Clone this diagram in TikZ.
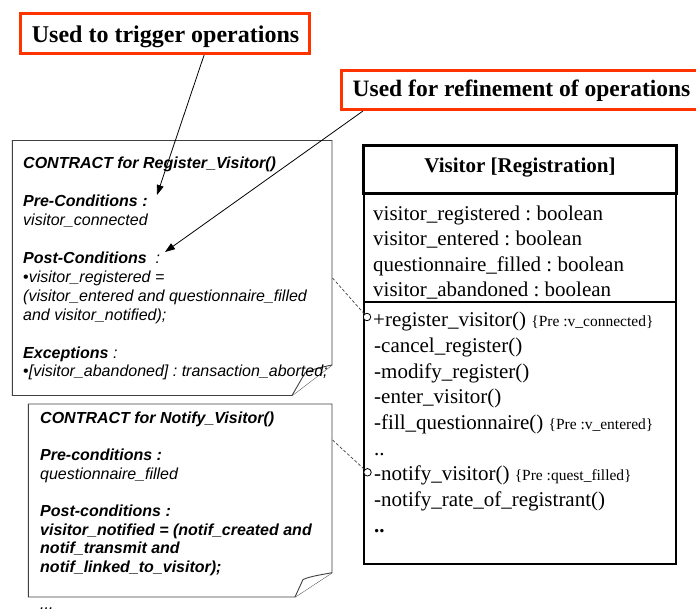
\documentclass[tikz,border=0pt]{standalone}
\usepackage{fontspec}
\setmainfont{Liberation Serif}
\newfontfamily\notefont{Liberation Sans}
\usetikzlibrary{arrows.meta,calc}
\frenchspacing

\definecolor{callred}{RGB}{255,51,0}
\definecolor{noteline}{RGB}{64,64,64}

\begin{document}
\begin{tikzpicture}[x=1pt,y=-1pt,
  calloutbox/.style={draw=callred, line width=2.6pt, fill=white, inner sep=0pt},
  callouttxt/.style={anchor=base west, inner sep=0pt, font=\fontsize{24}{28}\selectfont\bfseries},
  pointer/.style={line width=0.8pt, -{Triangle[length=10pt,width=7pt]}},
  noteshape/.style={draw=noteline, line width=0.9pt, fill=white, line join=miter},
  notetxt/.style={anchor=base west, inner sep=0pt, font=\notefont\fontsize{16}{19}\selectfont\itshape},
  notebold/.style={notetxt, font=\notefont\fontsize{16}{19}\selectfont\bfseries\itshape},
  classhead/.style={draw, line width=3pt, fill=white, inner sep=0pt},
  classpart/.style={draw, line width=1.7pt, fill=white, inner sep=0pt},
  member/.style={anchor=base west, inner sep=0pt, font=\fontsize{21}{25}\selectfont},
  port/.style={circle, draw, fill=white, line width=0.8pt, minimum size=7.5pt, inner sep=0pt},
  link/.style={draw=black!75, line width=0.7pt, dash pattern=on 3pt off 2pt}
]
\newcommand{\cond}[1]{{\fontsize{15.5}{18}\selectfont #1}}

\useasboundingbox (0,0) rectangle (696,612);

% ---------- contract notes ----------
\coordinate (n1a) at (12.3,140.5);
\coordinate (n1b) at (332,140.5);
\coordinate (n1c) at (332,365);
\coordinate (n1d) at (292,395.5);
\coordinate (n1e) at (12.3,395.5);
\coordinate (n1fold) at (305,373);
\path[noteshape] (n1a) -- (n1b) -- (n1c) -- (n1d) -- (n1e) -- cycle;
\draw[noteshape] (n1c) .. controls (323,367) and (312,369) .. (n1fold) -- (n1d);

\coordinate (n2a) at (28.3,404);
\coordinate (n2b) at (332,404);
\coordinate (n2c) at (332,572.7);
\coordinate (n2d) at (295,597);
\coordinate (n2e) at (28.3,597);
\coordinate (n2fold) at (303,579.5);
\path[noteshape] (n2a) -- (n2b) -- (n2c) -- (n2d) -- (n2e) -- cycle;
\draw[noteshape] (n2c) .. controls (323,574.5) and (311,576) .. (n2fold) -- (n2d);

% text of the first contract
\node[notebold] (c1t) at (23,169)   {CONTRACT for Register\_Visitor()};
\node[notebold] (c1p) at (23,206.8) {Pre-Conditions :};
\node[notetxt]  (c1pv) at (23,225.7) {visitor\_connected};
\node[notetxt]  (c1q) at (23,263.5) {\textbf{Post-Conditions}\ \ :};
\node[notetxt]  (c1q1) at (23,282.4) {\upshape•\itshape visitor\_registered =};
\node[notetxt]  (c1q2) at (23,301.3) {(visitor\_entered and questionnaire\_filled};
\node[notetxt]  (c1q3) at (23,320.2) {and visitor\_notified);};
\node[notetxt]  (c1x) at (23,358)   {\textbf{Exceptions} :};
\node[notetxt]  (c1x1) at (23,376.9) {\upshape•\itshape [visitor\_abandoned] : transaction\_aborted;};

% text of the second contract
\node[notebold] (c2t) at (40,423.5) {CONTRACT for Notify\_Visitor()};
\node[notebold] (c2p) at (40,460.7) {Pre-conditions :};
\node[notetxt]  (c2pv) at (40,479.3) {questionnaire\_filled};
\node[notebold] (c2q) at (40,516.5) {Post-conditions :};
\node[notebold] (c2q1) at (40,535.1) {visitor\_notified = (notif\_created and};
\node[notebold] (c2q2) at (40,553.7) {notif\_transmit and};
\node[notebold] (c2q3) at (40,572.3) {notif\_linked\_to\_visitor);};
\node[notetxt]  (more) at (40,609) {...};

% ---------- class ----------
\node[classpart, minimum width=312.6pt, minimum height=108.2pt] (attrs) at (520,247.6) {};
\node[classpart, minimum width=312.6pt, minimum height=262.3pt] (ops) at (520,432.85) {};
\node[classhead, minimum width=312.6pt, minimum height=47.8pt] (head) at (520,169.6) {};
\node[anchor=base, inner sep=0pt, font=\fontsize{21}{25}\selectfont\bfseries] (hname) at (520,172.7) {Visitor [Registration]};

\node[member] (a1) at (373,220.5) {visitor\_registered : boolean};
\node[member] (a2) at (373,245.8) {visitor\_entered : boolean};
\node[member] (a3) at (373,271.1) {questionnaire\_filled : boolean};
\node[member] (a4) at (373,296.4) {visitor\_abandoned : boolean};

\node[member] (o1) at (373,326.7) {+register\_visitor() \cond{\{Pre :v\_connected\}}};
\node[member] (o2) at (374,352.4) {-cancel\_register()};
\node[member] (o3) at (374,378.1) {-modify\_register()};
\node[member] (o4) at (374,403.8) {-enter\_visitor()};
\node[member] (o5) at (374,429.5) {-fill\_questionnaire() \cond{\{Pre :v\_entered\}}};
\node[member] (o6) at (374,455.2) {..};
\node[member] (o7) at (374,480.9) {-notify\_visitor() \cond{\{Pre :quest\_filled\}}};
\node[member] (o8) at (374,506.6) {-notify\_rate\_of\_registrant()};
\node[member] (o9) at (374,532.3) {\textbf{..}};

% ---------- links from contracts to operations ----------
\node[port] (p1) at (367,317) {};
\node[port] (p2) at (367.5,472.3) {};
\coordinate (n1port) at (332.5,278);
\coordinate (n2port) at (332.5,440);
\draw[link] (n1port) -- (p1);
\draw[link] (n2port) -- (p2);

% ---------- callouts ----------
\node[calloutbox, minimum width=289.2pt, minimum height=40pt] (trig) at (165.1,33.7) {};
\node[callouttxt] (trigtxt) at (31.7,42.7) {Used to trigger operations};
\node[calloutbox, minimum width=367pt, minimum height=39.4pt] (refine) at (524.8,90) {};
\node[callouttxt, font=\fontsize{23.5}{28}\selectfont\bfseries] (refinetxt) at (352.5,96.7) {Used for refinement of operations};

\coordinate (tip1) at (157,195);
\coordinate (tip2) at (165,252);
\draw[pointer] ($(trig.south)+(39,0)$) -- (tip1);
\draw[pointer] ($(refine.south west)+(23,0)$) -- (tip2);
\end{tikzpicture}
\end{document}
